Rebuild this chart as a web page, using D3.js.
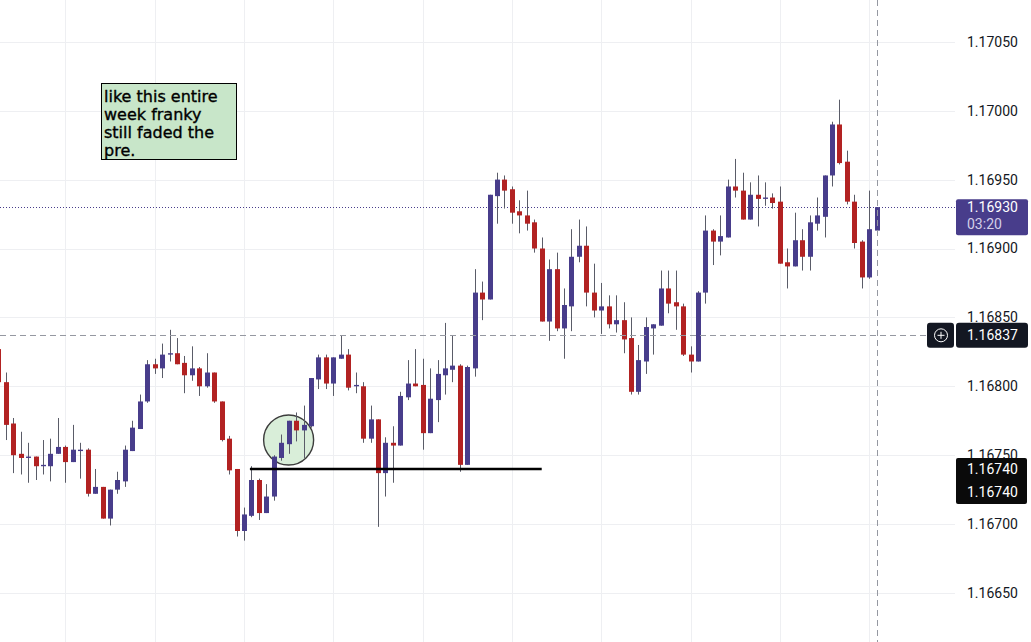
<!DOCTYPE html>
<html>
<head>
<meta charset="utf-8">
<script src="https://cdn.jsdelivr.net/npm/d3@7"></script>
<style>
  html, body { margin: 0; padding: 0; background: #ffffff; }
  svg { display: block; }
</style>
</head>
<body>
<svg id="chart" width="1031" height="642"></svg>
<script>
// ---------- DATA ----------
const openP = [1.16827,1.16803,1.16773,1.16751,1.16748,1.16749,1.16742,1.16742,1.16751,1.16756,
1.16745,1.16753,1.16754,1.16722,1.16727,1.16704,1.16725,1.16731,1.16753,1.16769,
1.16789,1.16816,1.16813,1.16823,1.16824,1.16817,1.16808,1.16813,1.16800,1.16810,
1.16789,1.16762,1.16740,1.16695,1.16706,1.16732,1.16708,1.16720,1.16748,1.16758,
1.16775,1.16768,1.16771,1.16805,1.16821,1.16802,1.16820,1.16823,1.16800,1.16800,
1.16762,1.16776,1.16737,1.16759,1.16757,1.16792,1.16802,1.16801,1.16766,1.16790,
1.16808,1.16812,1.16815,1.16743,1.16813,1.16868,1.16863,1.16938,1.16950,1.16943,
1.16927,1.16924,1.16919,1.16900,1.16847,1.16885,1.16842,1.16858,1.16894,1.16902,
1.16868,1.16855,1.16858,1.16845,1.16848,1.16835,1.16796,1.16818,1.16842,1.16844,
1.16871,1.16861,1.16858,1.16823,1.16818,1.16868,1.16913,1.16905,1.16908,1.16945,
1.16942,1.16921,1.16939,1.16936,1.16937,1.16934,1.16890,1.16887,1.16906,1.16894,
1.16918,1.16923,1.16953,1.16990,1.16963,1.16934,1.16905,1.16879,1.16913];
const highP = [1.16835,1.16810,1.16777,1.16767,1.16759,1.16749,1.16761,1.16762,1.16777,1.16757,
1.16772,1.16759,1.16755,1.16740,1.16727,1.16725,1.16738,1.16757,1.16775,1.16794,
1.16819,1.16820,1.16831,1.16841,1.16835,1.16822,1.16829,1.16814,1.16824,1.16810,
1.16789,1.16764,1.16740,1.16712,1.16742,1.16733,1.16729,1.16750,1.16765,1.16775,
1.16781,1.16786,1.16806,1.16823,1.16823,1.16821,1.16837,1.16827,1.16810,1.16803,
1.16786,1.16776,1.16763,1.16771,1.16796,1.16819,1.16827,1.16820,1.16813,1.16819,
1.16846,1.16837,1.16816,1.16815,1.16885,1.16876,1.16939,1.16955,1.16953,1.16945,
1.16935,1.16942,1.16921,1.16908,1.16892,1.16897,1.16871,1.16914,1.16921,1.16916,
1.16889,1.16875,1.16866,1.16866,1.16861,1.16850,1.16830,1.16850,1.16845,1.16884,
1.16884,1.16884,1.16860,1.16829,1.16869,1.16924,1.16914,1.16924,1.16950,1.16965,
1.16955,1.16948,1.16953,1.16948,1.16940,1.16945,1.16900,1.16926,1.16914,1.16924,
1.16937,1.16953,1.16992,1.17008,1.16971,1.16939,1.16906,1.16942,1.16930];
const lowP = [1.16800,1.16761,1.16737,1.16736,1.16730,1.16732,1.16736,1.16731,1.16751,1.16730,
1.16745,1.16733,1.16720,1.16722,1.16704,1.16699,1.16722,1.16727,1.16753,1.16769,
1.16788,1.16809,1.16806,1.16818,1.16816,1.16795,1.16804,1.16793,1.16799,1.16788,
1.16760,1.16736,1.16691,1.16688,1.16705,1.16703,1.16708,1.16717,1.16746,1.16751,
1.16760,1.16748,1.16770,1.16798,1.16798,1.16793,1.16820,1.16797,1.16795,1.16759,
1.16759,1.16698,1.16720,1.16730,1.16757,1.16790,1.16800,1.16754,1.16766,1.16774,
1.16794,1.16803,1.16738,1.16743,1.16807,1.16848,1.16863,1.16918,1.16929,1.16918,
1.16911,1.16913,1.16897,1.16847,1.16833,1.16840,1.16820,1.16840,1.16890,1.16858,
1.16850,1.16838,1.16842,1.16839,1.16824,1.16794,1.16794,1.16809,1.16823,1.16844,
1.16853,1.16841,1.16822,1.16810,1.16818,1.16860,1.16888,1.16895,1.16908,1.16937,
1.16921,1.16921,1.16916,1.16931,1.16929,1.16889,1.16871,1.16887,1.16884,1.16884,
1.16913,1.16908,1.16945,1.16961,1.16932,1.16900,1.16871,1.16878,1.16913];
const closeP = [1.16803,1.16772,1.16750,1.16748,1.16749,1.16742,1.16743,1.16751,1.16756,1.16745,
1.16754,1.16754,1.16722,1.16727,1.16704,1.16725,1.16732,1.16754,1.16770,1.16789,
1.16816,1.16813,1.16823,1.16824,1.16816,1.16808,1.16813,1.16800,1.16810,1.16789,
1.16761,1.16739,1.16695,1.16707,1.16732,1.16708,1.16720,1.16749,1.16759,1.16775,
1.16768,1.16772,1.16806,1.16821,1.16802,1.16821,1.16823,1.16799,1.16801,1.16762,
1.16776,1.16737,1.16759,1.16757,1.16793,1.16802,1.16800,1.16766,1.16791,1.16809,
1.16813,1.16815,1.16743,1.16814,1.16868,1.16863,1.16939,1.16950,1.16942,1.16926,
1.16924,1.16918,1.16900,1.16847,1.16885,1.16842,1.16859,1.16894,1.16902,1.16868,
1.16855,1.16858,1.16845,1.16848,1.16834,1.16796,1.16819,1.16843,1.16845,1.16871,
1.16860,1.16858,1.16823,1.16818,1.16868,1.16913,1.16905,1.16909,1.16945,1.16942,
1.16921,1.16939,1.16936,1.16937,1.16933,1.16889,1.16887,1.16906,1.16894,1.16919,
1.16924,1.16953,1.16990,1.16962,1.16934,1.16904,1.16879,1.16914,1.16930];

const priceTicks = [1.16650,1.16700,1.16750,1.16800,1.16850,1.16900,1.16950,1.17000,1.17050];
const gridCandles = [9,21,33,45,57,69,81,93,105,117];   // hourly grid positions
const lastPrice = 1.16930;
const countdown = "03:20";
const crossPrice = 1.16837;
const crossIndex = 118;
const levelPrice = 1.16740;
const levelFrom = 33.8, levelTo = 73;
const circleCenter = {i: 39, p: 1.16761};
const noteLines = ["like this entire", "week franky", "still faded the", "pre."];

// ---------- SCALES ----------
const svg = d3.select("#chart");
const W = 1031, H = 642, paneW = 955;
const n = openP.length;
const x = d3.scaleLinear().domain([0, n - 1]).range([-1.7, 876.7]);
const y = d3.scaleLinear().domain([1.16650, 1.17050]).range([593.0, 41.8]);

const UP = "#483d8b", DOWN = "#b22222", WICK = "#5a5c68", GRID = "#eeeff2";
const FONT = "Roboto, 'Liberation Sans', sans-serif";

svg.append("rect").attr("width", W).attr("height", H).attr("fill", "#fff");

// grid
svg.append("g").selectAll("line").data(gridCandles).join("line")
  .attr("x1", d => Math.round(x(d)) + 0.5).attr("x2", d => Math.round(x(d)) + 0.5)
  .attr("y1", 0).attr("y2", H).attr("stroke", GRID).attr("stroke-width", 1);
svg.append("g").selectAll("line").data(priceTicks).join("line")
  .attr("x1", 0).attr("x2", paneW)
  .attr("y1", d => Math.round(y(d)) + 0.5).attr("y2", d => Math.round(y(d)) + 0.5)
  .attr("stroke", GRID).attr("stroke-width", 1);

// circle drawing (under candles)
svg.append("circle")
  .attr("cx", x(circleCenter.i)).attr("cy", y(circleCenter.p)).attr("r", 25)
  .attr("fill", "#d9eed9").attr("stroke", "#3c3c3c").attr("stroke-width", 1.4);

// last price dotted line
svg.append("line")
  .attr("x1", 0).attr("x2", paneW)
  .attr("y1", Math.round(y(lastPrice)) + 0.5).attr("y2", Math.round(y(lastPrice)) + 0.5)
  .attr("stroke", UP).attr("stroke-width", 1).attr("stroke-dasharray", "1,2");

// candles
const data = d3.range(n).map(i => ({i, o: openP[i], h: highP[i], l: lowP[i], c: closeP[i]}));
const cg = svg.append("g");
cg.selectAll("line.wick").data(data).join("line")
  .attr("class", "wick")
  .attr("x1", d => Math.round(x(d.i)) + 0.5).attr("x2", d => Math.round(x(d.i)) + 0.5)
  .attr("y1", d => y(d.h)).attr("y2", d => y(d.l))
  .attr("stroke", WICK).attr("stroke-width", 1);
cg.selectAll("rect.body").data(data).join("rect")
  .attr("class", "body")
  .attr("x", d => Math.round(x(d.i)) - 2)
  .attr("width", 5)
  .attr("y", d => y(Math.max(d.o, d.c)))
  .attr("height", d => Math.max(1, Math.abs(y(d.o) - y(d.c))))
  .attr("fill", d => d.c >= d.o ? UP : DOWN);

// horizontal level line
svg.append("line")
  .attr("x1", x(levelFrom)).attr("x2", x(levelTo))
  .attr("y1", y(levelPrice)).attr("y2", y(levelPrice))
  .attr("stroke", "#000").attr("stroke-width", 2.5);

// note box
const note = svg.append("g");
note.append("rect").attr("x", 101.5).attr("y", 83.5).attr("width", 135).attr("height", 76)
  .attr("fill", "#c8e6c9").attr("stroke", "#000").attr("stroke-width", 1);
note.selectAll("text").data(noteLines).join("text")
  .attr("x", 104).attr("y", (d, k) => 102 + k * 18)
  .attr("font-family", "'DejaVu Sans', Verdana, sans-serif").attr("font-size", 16)
  .attr("fill", "#000").attr("stroke", "#000").attr("stroke-width", 0.35)
  .text(d => d);

// crosshair
svg.append("line")
  .attr("x1", 0).attr("x2", 927)
  .attr("y1", Math.round(y(crossPrice)) + 0.5).attr("y2", Math.round(y(crossPrice)) + 0.5)
  .attr("stroke", "#9598a1").attr("stroke-width", 1).attr("stroke-dasharray", "6,4");
svg.append("line")
  .attr("x1", Math.round(x(crossIndex)) + 0.5).attr("x2", Math.round(x(crossIndex)) + 0.5)
  .attr("y1", 0).attr("y2", H)
  .attr("stroke", "#9598a1").attr("stroke-width", 1).attr("stroke-dasharray", "6,4");

// price axis
const axis = d3.axisRight(y).tickValues(priceTicks).tickFormat(d => d.toFixed(5))
  .tickSize(0).tickPadding(12);
const ag = svg.append("g").attr("transform", `translate(${paneW},0)`).call(axis);
ag.select(".domain").remove();
ag.selectAll("text").attr("font-family", FONT).attr("font-size", 14).attr("fill", "#131722");

// last price label
const yl = y(lastPrice);
svg.append("rect").attr("x", 956).attr("y", yl - 8).attr("width", 72).attr("height", 36)
  .attr("rx", 2).attr("fill", UP);
svg.append("text").attr("x", 967).attr("y", yl).attr("dy", "0.35em")
  .attr("font-family", FONT).attr("font-size", 14).attr("fill", "#fff").text(lastPrice.toFixed(5));
svg.append("text").attr("x", 967).attr("y", yl + 17).attr("dy", "0.35em")
  .attr("font-family", FONT).attr("font-size", 14).attr("fill", "#d3cfe8").text(countdown);

// crosshair label + plus button
const yc = y(crossPrice);
svg.append("rect").attr("x", 927).attr("y", yc - 12.5).attr("width", 27).attr("height", 25)
  .attr("rx", 3).attr("fill", "#131722");
svg.append("circle").attr("cx", 941).attr("cy", yc).attr("r", 6.5)
  .attr("fill", "none").attr("stroke", "#fff").attr("stroke-width", 1);
svg.append("line").attr("x1", 937.5).attr("x2", 944.5).attr("y1", yc).attr("y2", yc)
  .attr("stroke", "#fff").attr("stroke-width", 1);
svg.append("line").attr("x1", 941).attr("x2", 941).attr("y1", yc - 3.5).attr("y2", yc + 3.5)
  .attr("stroke", "#fff").attr("stroke-width", 1);
svg.append("rect").attr("x", 956).attr("y", yc - 12.5).attr("width", 72).attr("height", 25)
  .attr("rx", 3).attr("fill", "#131722");
svg.append("text").attr("x", 967).attr("y", yc).attr("dy", "0.35em")
  .attr("font-family", FONT).attr("font-size", 14).attr("fill", "#fff").text(crossPrice.toFixed(5));

// level label (two stacked)
const yv = y(levelPrice);
svg.append("rect").attr("x", 956).attr("y", yv - 11).attr("width", 71).attr("height", 46)
  .attr("rx", 2).attr("fill", "#0a0a0a");
[0, 23].forEach(off => {
  svg.append("text").attr("x", 967).attr("y", yv + off).attr("dy", "0.35em")
    .attr("font-family", FONT).attr("font-size", 14).attr("fill", "#fff").text(levelPrice.toFixed(5));
});
</script>
</body>
</html>
